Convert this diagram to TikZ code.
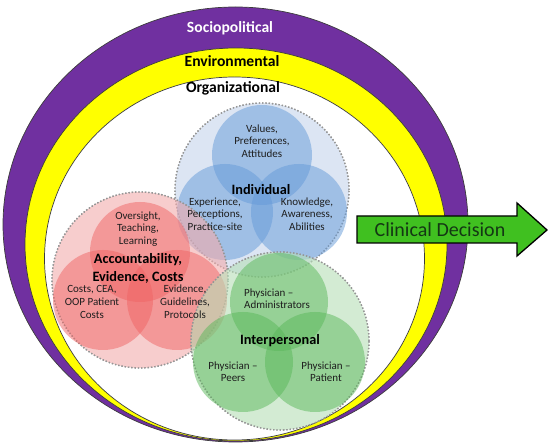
\documentclass[tikz,border=0pt]{standalone}
\usepackage{fontspec}
\setmainfont{Carlito}
\definecolor{purp}{RGB}{112,48,160}
\definecolor{yel}{RGB}{255,255,0}
\definecolor{edge}{RGB}{60,60,60}
\definecolor{dotgray}{RGB}{150,150,150}
\definecolor{blueout}{RGB}{197,213,235}
\definecolor{bluein}{RGB}{100,154,217}
\definecolor{redout}{RGB}{243,172,172}
\definecolor{redin}{RGB}{240,100,100}
\definecolor{greenout}{RGB}{183,223,183}
\definecolor{greenin}{RGB}{90,184,90}
\definecolor{arrowgreen}{RGB}{64,192,32}
\definecolor{cdtext}{RGB}{20,55,20}
\definecolor{txt}{RGB}{30,30,30}
\begin{document}
\begin{tikzpicture}[x=1pt,y=-1pt,
  small/.style={font=\fontsize{11}{12.5}\selectfont, align=center, inner sep=0pt, text=txt},
  big/.style={font=\bfseries\fontsize{14.3}{18}\selectfont, align=center, inner sep=0pt},
  ringlabel/.style={font=\bfseries\fontsize{15.6}{18}\selectfont, inner sep=0pt},
  outerc/.style={draw=dotgray, dotted, line width=1.3pt, fill opacity=0.6},
  innerc/.style={fill opacity=0.5},
  band/.style={draw=edge, line width=0.7pt}]
\useasboundingbox (0,0) rectangle (550,446);
% rings
\path[band, fill=purp] (235.5,224.5) ellipse [x radius=232.5pt, y radius=217.5pt];
\path[band, fill=yel] (236,244.5) ellipse [x radius=211pt, y radius=196.5pt];
\path[band, fill=white] (234.5,258.5) ellipse [x radius=190pt, y radius=181.5pt];
\node[ringlabel, text=white] (socio) at (230,28) {Sociopolitical};
\node[ringlabel] (env) at (232,61) {Environmental};
\node[ringlabel] (org) at (233,88) {Organizational};
% individual cluster
\fill[outerc, fill=blueout] (262,190) circle [radius=87pt];
\draw[draw=dotgray, dotted, line width=1.3pt] (262,190) circle [radius=87pt];
\fill[innerc, fill=bluein] (262,155) circle [radius=50pt];
\fill[innerc, fill=bluein] (225,212) circle [radius=48pt];
\fill[innerc, fill=bluein] (299,212) circle [radius=48pt];
% accountability cluster
\fill[outerc, fill=redout] (140,280) circle [radius=88pt];
\draw[draw=dotgray, dotted, line width=1.3pt] (140,280) circle [radius=88pt];
\fill[innerc, fill=redin] (140,252) circle [radius=50pt];
\fill[innerc, fill=redin] (103,300) circle [radius=50pt];
\fill[innerc, fill=redin] (177,300) circle [radius=50pt];
% interpersonal cluster
\fill[outerc, fill=greenout] (280,341) circle [radius=89pt];
\draw[draw=dotgray, dotted, line width=1.3pt] (280,341) circle [radius=89pt];
\fill[innerc, fill=greenin] (279,302) circle [radius=49pt];
\fill[innerc, fill=greenin] (243,362) circle [radius=50pt];
\fill[innerc, fill=greenin] (315,362) circle [radius=50pt];
% texts
\node[small] (values) at (262,141) {Values,\\Preferences,\\Attitudes};
\node[big] (indiv) at (261,190) {Individual};
\node[small] (exper) at (215,214) {Experience,\\Perceptions,\\Practice-site};
\node[small] (know) at (307,214) {Knowledge,\\Awareness,\\Abilities};
\node[small] (over) at (138,229) {Oversight,\\Teaching,\\Learning};
\node[big] (acc) at (138,268) {Accountability,\\Evidence, Costs};
\node[small, font=\fontsize{11}{13}\selectfont] (costs) at (92,302) {Costs, CEA,\\OOP Patient\\Costs};
\node[small, font=\fontsize{11}{13}\selectfont] (evid) at (185,302) {Evidence,\\Guidelines,\\Protocols};
\node[small, align=left] (admin) at (277,298.5) {Physician --\\Administrators};
\node[big] (inter) at (280,341) {Interpersonal};
\node[small] (peers) at (233,371.5) {Physician --\\Peers};
\node[small] (patient) at (326,371.5) {Physician --\\Patient};
% clinical decision arrow
\draw[fill=arrowgreen, draw=black, line width=1.3pt, line join=miter]
  (357,216) -- (517,216) -- (517,203) -- (547,230) -- (517,256) -- (517,243) -- (357,243) -- cycle;
\node[font=\fontsize{20}{24}\selectfont, text=cdtext, inner sep=0pt] (clin) at (440,229.5) {Clinical Decision};
\end{tikzpicture}
\end{document}
